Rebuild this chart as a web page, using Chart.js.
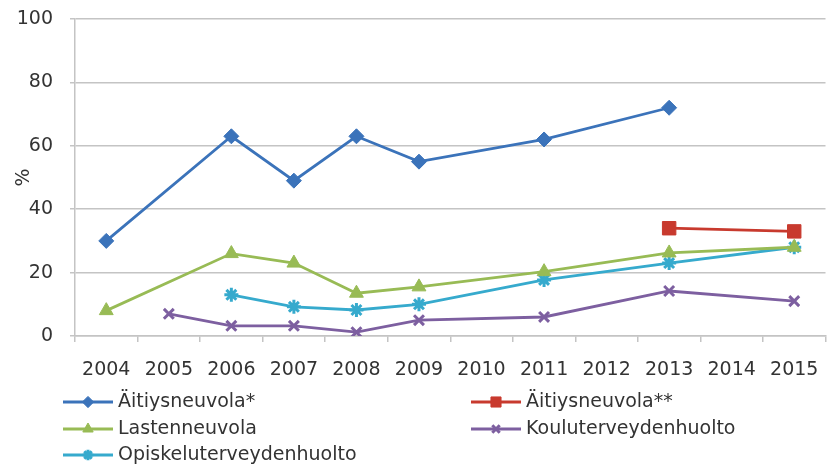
<!DOCTYPE html>
<html lang="fi">
<head>
<meta charset="UTF-8" />
<title>Äitiysneuvola ja muut palvelut</title>
<script src="https://cdn.jsdelivr.net/npm/chart.js"></script>
<style>
    html, body {
        margin: 0;
        padding: 0;
        background: #fff;
        overflow: hidden;
    }
    #wrap {
        width: 827px;
        height: 466px;
        position: relative;
    }
</style>
</head>
<body>
<div id="wrap"><canvas id="chart" width="827" height="466"></canvas></div>

<script>
    // categories (years)
    const years = ['2004', '2005', '2006', '2007', '2008', '2009', '2010', '2011', '2012', '2013', '2014', '2015'];

    // series values, null = no measurement that year
    const aitiys1 = [30, null, 63, 49, 63, 55, null, 62, null, 72, null, null];
    const aitiys2 = [null, null, null, null, null, null, null, null, null, 34, null, 33];
    const lasten = [8, null, 26, 23, 13.5, 15.5, null, 20.3, null, 26.2, null, 28];
    const koulu = [null, 7, 3.2, 3.2, 1.2, 5, null, 6, null, 14.2, null, 11];
    const opiskelu = [null, null, 13, 9.2, 8.2, 10, null, 17.7, null, 23, null, 28];

    const seriesNames = ['Äitiysneuvola*', 'Äitiysneuvola**', 'Lastenneuvola', 'Kouluterveydenhuolto', 'Opiskeluterveydenhuolto'];

    // y axis ticks
    const yMin = 0, yMax = 100, yStep = 20;

    const FONT = 'DejaVu Sans';
    const textColor = '#333333';
    const gridColor = '#c4c4c4';
    const plotRight = 825; // where the plot should end in the 827px window

    function ds(label, data, color, style, radius, bw) {
        return {
            label: label,
            data: data,
            borderColor: color,
            backgroundColor: color,
            borderWidth: 2.8,
            pointStyle: style,
            pointRadius: radius,
            pointHoverRadius: radius,
            pointBorderWidth: bw,
            pointBackgroundColor: color,
            pointBorderColor: color,
            spanGaps: true,
            tension: 0
        };
    }

    // legend laid out in two columns like the original
    const gridLegend = {
        id: 'gridLegend',
        afterDraw(chart) {
            const ctx = chart.ctx;
            const cols = [63, 471];
            const rows = [402, 429, 455];
            ctx.save();
            chart.data.datasets.forEach((d, i) => {
                const x = cols[i % 2];
                const y = rows[Math.floor(i / 2)];
                ctx.strokeStyle = d.borderColor;
                ctx.lineWidth = 2.8;
                ctx.beginPath();
                ctx.moveTo(x, y);
                ctx.lineTo(x + 50, y);
                ctx.stroke();
                // drawPoint takes its colours from the ctx state
                ctx.fillStyle = d.pointBackgroundColor;
                ctx.strokeStyle = d.pointBorderColor;
                ctx.lineWidth = d.pointBorderWidth;
                Chart.helpers.drawPoint(ctx, {
                    pointStyle: d.pointStyle,
                    radius: d.pointRadius * 0.75,
                    borderWidth: d.pointBorderWidth
                }, x + 25, y);
                ctx.fillStyle = textColor;
                ctx.font = '19px "' + FONT + '"';
                ctx.textBaseline = 'middle';
                ctx.textAlign = 'left';
                ctx.fillText(d.label, x + 55, y);
            });
            ctx.restore();
        }
    };

    const ctx = document.getElementById('chart').getContext('2d');
    const chart = new Chart(ctx, {
        type: 'line',
        data: {
            labels: years,
            datasets: [
                ds(seriesNames[0], aitiys1, '#3b73ba', 'rectRot', 7.5, 1),
                ds(seriesNames[1], aitiys2, '#c83a2e', 'rect', 9.5, 1),
                ds(seriesNames[2], lasten, '#98bb55', 'triangle', 8, 1),
                ds(seriesNames[3], koulu, '#7d5fa0', 'crossRot', 7, 3),
                ds(seriesNames[4], opiskelu, '#36aacd', 'star', 7, 3)
            ]
        },
        options: {
            responsive: false,
            maintainAspectRatio: false,
            animation: false,
            layout: { padding: { top: 19, right: 2, bottom: 85, left: 0 } },
            plugins: {
                legend: { display: false },
                tooltip: { enabled: false }
            },
            scales: {
                x: {
                    offset: true,
                    afterFit(scale) {
                        scale.height = 45;
                        scale.paddingLeft = 0;
                        scale.paddingRight = 0;
                    },
                    grid: {
                        offset: true,
                        drawOnChartArea: false,
                        drawTicks: true,
                        tickLength: 6,
                        color: gridColor,
                        lineWidth: 1.5
                    },
                    border: { color: gridColor, width: 1.5 },
                    ticks: {
                        color: textColor,
                        font: { family: FONT, size: 19 },
                        padding: 17,
                        maxRotation: 0,
                        autoSkip: false
                    }
                },
                y: {
                    min: yMin,
                    max: yMax,
                    afterFit(scale) {
                        scale.width = 75;
                        scale.paddingTop = 0;
                        scale.paddingBottom = 0;
                    },
                    grid: {
                        color: gridColor,
                        lineWidth: 1.5,
                        tickLength: 5
                    },
                    border: { color: gridColor, width: 1.5 },
                    ticks: {
                        stepSize: yStep,
                        color: textColor,
                        font: { family: FONT, size: 19 },
                        padding: 17
                    },
                    title: {
                        display: true,
                        text: '%',
                        color: textColor,
                        font: { family: FONT, size: 19 },
                        padding: { top: 13, bottom: 0 }
                    }
                }
            }
        },
        plugins: [gridLegend]
    });

    // chart.js keeps a few px free on the right for the last label; widen the
    // canvas past the window edge so the plot itself ends where the original does
    const gap = Math.round(plotRight - chart.chartArea.right);
    if (gap > 0) {
        document.getElementById('wrap').style.width = (827 + gap) + 'px';
        chart.resize(827 + gap, 466);
    }
</script>
</body>
</html>
